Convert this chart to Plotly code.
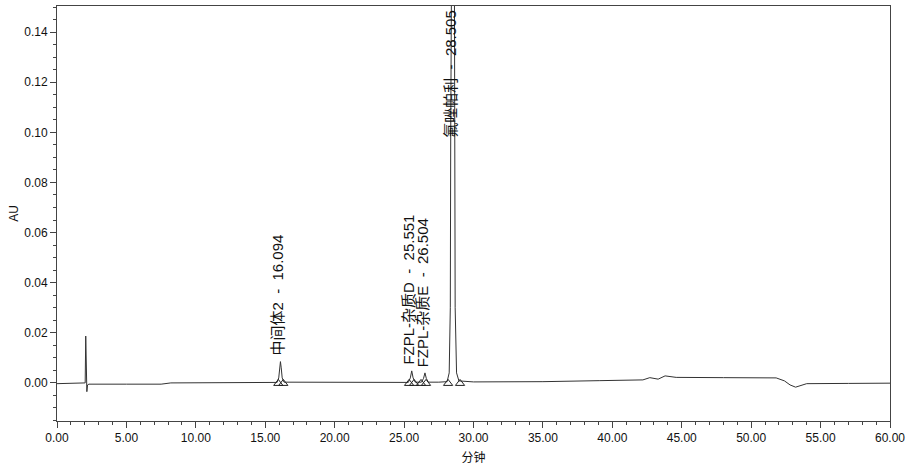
import plotly.graph_objects as go

# Chromatogram trace (minutes, AU)
time_min = [0.0, 1.0, 1.95, 2.03, 2.07, 2.11, 2.15, 2.2, 2.3, 5.0, 7.5, 8.2, 12.0,
            15.85, 15.97, 16.04, 16.094, 16.15, 16.22, 16.35, 20.0, 24.0,
            25.3, 25.45, 25.551, 25.65, 25.8, 26.0, 26.25, 26.4, 26.504, 26.6, 26.75,
            27.5, 28.1, 28.25, 28.33, 28.36, 28.40, 28.505, 28.61, 28.65, 28.68, 28.78, 28.95,
            30.0, 35.0, 39.1, 42.2, 42.7, 43.3, 43.8, 44.6, 48.0, 51.8, 52.4, 52.8, 53.2, 53.6,
            54.0, 57.0, 60.0]
signal_au = [-0.0003, -0.0003, -0.0003, 0.0, 0.0187, 0.0, -0.0035, -0.0008, -0.0005, -0.0005, -0.0005, 0.0, 0.0001,
             0.0002, 0.002, 0.006, 0.0085, 0.006, 0.002, 0.0003, 0.0002, 0.0002,
             0.0002, 0.002, 0.0048, 0.002, 0.0003, 0.0003, 0.0003, 0.0018, 0.0040, 0.0018, 0.0003,
             0.0003, 0.0005, 0.004, 0.03, 0.1, 0.2, 0.26, 0.2, 0.1, 0.03, 0.004, 0.0008,
             0.0004, 0.0005, 0.0009, 0.0012, 0.0021, 0.0015, 0.0028, 0.0022, 0.0021, 0.002, 0.0008, -0.0008, -0.0017, -0.0009,
             -0.0003, -0.0002, -0.0001]

# Peak labels
peak_names = ["中间体2 - 16.094", "FZPL-杂质D - 25.551", "FZPL-杂质E - 26.504", "氟唑帕利 - 28.505"]
peak_rt = [16.094, 25.551, 26.504, 28.505]
peak_height = [0.0085, 0.0048, 0.0040, 0.26]

# Integration start/end markers
mark_x = [15.94, 16.30, 25.36, 25.72, 26.22, 26.58, 28.17, 29.03]
mark_y = [-0.0002] * len(mark_x)

x_tick_vals = [0, 5, 10, 15, 20, 25, 30, 35, 40, 45, 50, 55, 60]
y_tick_vals = [0.0, 0.02, 0.04, 0.06, 0.08, 0.10, 0.12, 0.14]

FONT = "Arial, Liberation Sans, Noto Sans CJK SC, sans-serif"
NB = "\u00a0"

fig = go.Figure()
fig.add_trace(go.Scatter(x=time_min, y=signal_au, mode="lines",
                         line=dict(color="#333333", width=1), hoverinfo="skip", showlegend=False))
fig.add_trace(go.Scatter(x=mark_x, y=mark_y, mode="markers",
                         marker=dict(symbol="triangle-up-open", size=8, color="#222222",
                                     line=dict(width=1, color="#222222")),
                         hoverinfo="skip", showlegend=False))

YMAX = 0.1504
for name, rt, h in zip(peak_names, peak_rt, peak_height):
    label = name.replace(" - ", NB * 2 + "-" + NB * 2)
    if h < YMAX * 0.9:
        fig.add_annotation(x=rt, y=h, xref="x", yref="y", text=label, showarrow=False,
                           textangle=-90, xanchor="center", yanchor="bottom",
                           xshift=-3, yshift=4, font=dict(family=FONT, size=15, color="#111111"))
    else:
        fig.add_annotation(x=rt, y=1, xref="x", yref="paper", text=label, showarrow=False,
                           textangle=-90, xanchor="center", yanchor="top",
                           xshift=-3, yshift=-2, font=dict(family=FONT, size=15, color="#111111"))

fig.update_layout(
    width=910, height=466,
    margin=dict(l=57, r=20, t=6, b=45),
    paper_bgcolor="white", plot_bgcolor="white",
    font=dict(family=FONT, size=12, color="#111111"),
    showlegend=False,
)
fig.update_xaxes(range=[0, 60], tickvals=x_tick_vals,
                 ticktext=[f"{v:.2f}" for v in x_tick_vals],
                 ticks="outside", ticklen=6, tickcolor="#444444",
                 minor=dict(dtick=1, ticks="outside", ticklen=3, tickcolor="#444444"),
                 showline=True, linecolor="#444444", linewidth=1, mirror=True,
                 showgrid=False, zeroline=False, automargin=False,
                 title=dict(text="分钟", font=dict(size=12), standoff=9),
                 tickfont=dict(size=12))
fig.update_yaxes(range=[-0.0152, YMAX], tickvals=y_tick_vals,
                 ticktext=[f"{v:.2f}" for v in y_tick_vals],
                 ticks="outside", ticklen=6, tickcolor="#444444",
                 minor=dict(dtick=0.005, tick0=0, ticks="outside", ticklen=3, tickcolor="#444444"),
                 showline=True, linecolor="#444444", linewidth=1, mirror=True,
                 showgrid=False, zeroline=False, automargin=False,
                 title=dict(text="AU", font=dict(size=12), standoff=3),
                 tickfont=dict(size=12))

fig.write_html("out.html", config={"displayModeBar": False},
               post_script="document.body.style.margin='0';document.body.style.overflow='hidden';")
